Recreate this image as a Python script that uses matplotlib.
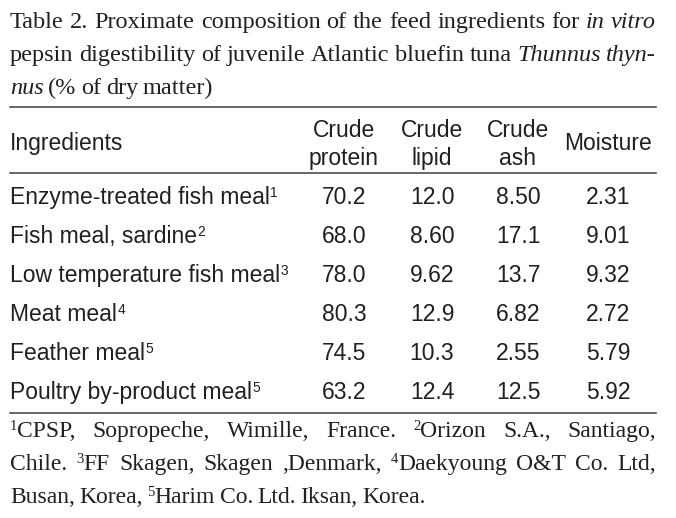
import matplotlib
matplotlib.use('Agg')
import matplotlib.pyplot as plt
from matplotlib import font_manager

# ---------------- data ----------------
ingredients = ["Enzyme-treated fish meal", "Fish meal, sardine", "Low temperature fish meal",
               "Meat meal", "Feather meal", "Poultry by-product meal"]
ingredient_notes = ["1", "2", "3", "4", "5", "5"]
crude_protein = [70.2, 68.0, 78.0, 80.3, 74.5, 63.2]
crude_lipid = [12.0, 8.60, 9.62, 12.9, 10.3, 12.4]
crude_ash = [8.50, 17.1, 13.7, 6.82, 2.55, 12.5]
moisture = [2.31, 9.01, 9.32, 2.72, 5.79, 5.92]
column_headers = [("Crude", "protein"), ("Crude", "lipid"), ("Crude", "ash"), ("", "Moisture")]
first_header = "Ingredients"

title_lines = [
    [[("Table", "n")], [("2.", "n")], [("Proximate", "n")], [("composition", "n")], [("of", "n")],
     [("the", "n")], [("feed", "n")], [("ingredients", "n")], [("for", "n")], [("in", "i")], [("vitro", "i")]],
    [[("pepsin", "n")], [("digestibility", "n")], [("of", "n")], [("juvenile", "n")], [("Atlantic", "n")],
     [("bluefin", "n")], [("tuna", "n")], [("Thunnus", "i")], [("thyn-", "i")]],
    [[("nus", "i")], [("(%", "n")], [("of", "n")], [("dry", "n")], [("matter)", "n")]],
]
foot_lines = [
    [[("1", "s"), ("CPSP,", "n")], [("Sopropeche,", "n")], [("Wimille,", "n")], [("France.", "n")],
     [("2", "s"), ("Orizon", "n")], [("S.A.,", "n")], [("Santiago,", "n")]],
    [[("Chile.", "n")], [("3", "s"), ("FF", "n")], [("Skagen,", "n")], [("Skagen", "n")], [(",Denmark,", "n")],
     [("4", "s"), ("Daekyoung", "n")], [("O&T", "n")], [("Co.", "n")], [("Ltd,", "n")]],
    [[("Busan,", "n")], [("Korea,", "n")], [("5", "s"), ("Harim", "n")], [("Co.", "n")], [("Ltd.", "n")],
     [("Iksan,", "n")], [("Korea.", "n")]],
]

# ---------------- fonts ----------------
avail = {f.name for f in font_manager.fontManager.ttflist}
SANS = ["Liberation Sans Narrow", "Liberation Sans", "DejaVu Sans"]
SANS = [f for f in SANS if f in avail] or ["DejaVu Sans"]
NARROW = "Liberation Sans Narrow" in avail
SERIF = ["Liberation Serif", "DejaVu Serif"]
SERIF = [f for f in SERIF if f in avail] or ["DejaVu Serif"]

W, H = 676, 518
fig = plt.figure(figsize=(W / 100, H / 100), dpi=100)
fig.patch.set_facecolor("white")
renderer = fig.canvas.get_renderer()
TXT = "#231f20"


def fx(x):
    return x / W


def fy(y):
    return 1 - y / H


def put(x, y, s, size, family, style="normal", ha="left"):
    t = fig.text(fx(x), fy(y), s, fontsize=size, family=family, fontstyle=style,
                 ha=ha, va="baseline", color=TXT)
    return t


def width_of(t):
    return t.get_window_extent(renderer=renderer).width


def draw_words(words, x0, x1, y, size, family, justify=True, sup_scale=0.62, sup_rise=7,
               min_space=None):
    items = []
    total = 0.0
    for word in words:
        parts = []
        wsum = 0.0
        for txt, st in word:
            if st == "s":
                t = put(0, y - sup_rise, txt, size * sup_scale, family)
            else:
                t = put(0, y, txt, size, family, "italic" if st == "i" else "normal")
            w = width_of(t)
            parts.append((t, w, st))
            wsum += w
        items.append(parts)
        total += wsum
    n_gaps = len(words) - 1
    if justify and n_gaps > 0:
        gap = (x1 - x0 - total) / n_gaps
    else:
        gap = min_space if min_space is not None else size * 0.25 * 100 / 72
    x = x0
    for parts in items:
        for t, w, st in parts:
            t.set_x(fx(x))
            x += w
        x += gap


# ---------------- title ----------------
LEFT, RIGHT = 10, 656
title_size = 17.5
title_base = [28, 61, 94]
for i, line in enumerate(title_lines):
    draw_words(line, LEFT, RIGHT, title_base[i], title_size, SERIF, justify=(i < 2),
               min_space=4.5)

# ---------------- rules ----------------
for yy in [107, 173, 413]:
    fig.add_artist(plt.Line2D([fx(LEFT), fx(RIGHT)], [fy(yy), fy(yy)], color="#4d4d4f", lw=1.2))

# ---------------- header ----------------
body_size = 18 if NARROW else 16.5
col_x = [344, 432, 518, 608]
put(LEFT, 150, first_header, body_size, SANS)
for cx, (h1, h2) in zip(col_x, column_headers):
    if h1:
        put(cx, 137, h1, body_size, SANS, ha="center")
        put(cx, 165, h2, body_size, SANS, ha="center")
    else:
        put(cx, 150, h2, body_size, SANS, ha="center")

# ---------------- body ----------------
row_base = [204, 243, 282, 321, 360, 399]
for i, name in enumerate(ingredients):
    y = row_base[i]
    t = put(LEFT, y, name, body_size, SANS)
    w = width_of(t)
    put(LEFT + w + 0.5, y - 7, ingredient_notes[i], body_size * 0.6, SANS)
    for cx, col in zip(col_x, [crude_protein, crude_lipid, crude_ash, moisture]):
        put(cx, y, "{:#.3g}".format(col[i]), body_size, SANS, ha="center")

# ---------------- footnotes ----------------
foot_size = 17
foot_base = [437, 470, 503]
for i, line in enumerate(foot_lines):
    draw_words(line, LEFT, RIGHT, foot_base[i], foot_size, SERIF, justify=(i < 2),
               min_space=4.5, sup_rise=7)

fig.savefig("out.png", dpi=100, facecolor="white")
